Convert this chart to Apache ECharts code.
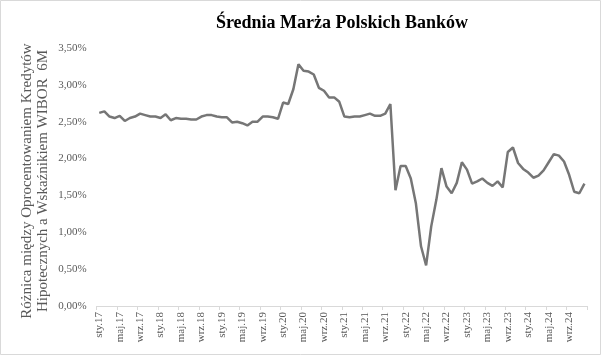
<!DOCTYPE html>
<html>
<head>
<meta charset="utf-8">
<script src="https://cdn.jsdelivr.net/npm/echarts@6/dist/echarts.min.js"></script>
<style>html,body{margin:0;padding:0;background:#fff}#c{width:602px;height:356px}</style>
</head>
<body>
<div id="c"></div>
<script>
const title = "Średnia Marża Polskich Banków";
const yAxisTitle = "Różnica między Oprocentowaniem Kredytów\nHipotecznych a Wskaźnikiem WIBOR  6M";
const monthNames = ["sty","lut","mar","kwi","maj","cze","lip","sie","wrz","paź","lis","gru"];
const years = ["17","18","19","20","21","22","23","24"];
const categories = [];
years.forEach(y => monthNames.forEach(m => categories.push(m + "." + y)));
// margin in %
const margin = [
  2.62, 2.64, 2.57, 2.55, 2.58, 2.51, 2.55, 2.57, 2.61, 2.59, 2.57, 2.57,
  2.55, 2.60, 2.52, 2.55, 2.54, 2.54, 2.53, 2.53, 2.57, 2.59, 2.59, 2.57,
  2.56, 2.56, 2.49, 2.50, 2.48, 2.45, 2.50, 2.50, 2.57, 2.57, 2.56, 2.54,
  2.76, 2.74, 2.94, 3.28, 3.19, 3.18, 3.14, 2.96, 2.92, 2.83, 2.83, 2.77,
  2.57, 2.56, 2.57, 2.57, 2.59, 2.61, 2.58, 2.58, 2.61, 2.74, 1.57, 1.90,
  1.90, 1.73, 1.39, 0.81, 0.55, 1.08, 1.44, 1.87, 1.62, 1.53, 1.67, 1.95,
  1.85, 1.66, 1.69, 1.73, 1.67, 1.63, 1.69, 1.61, 2.09, 2.15, 1.94, 1.86,
  1.81, 1.74, 1.77, 1.84, 1.95, 2.06, 2.04, 1.96, 1.78, 1.55, 1.53, 1.66
];
const yTicks = [0, 0.5, 1, 1.5, 2, 2.5, 3, 3.5];

const chart = echarts.init(document.getElementById('c'), null, {renderer: 'canvas'});
const serif = '"Liberation Serif","Times New Roman",serif';
chart.setOption({
  animation: false,
  backgroundColor: '#fff',
  title: {
    text: title, left: 337, top: 9, textAlign: 'center',
    textStyle: {fontFamily: serif, fontSize: 18, fontWeight: 'bold', color: '#000'}
  },
  graphic: [{
    type: 'rect', shape: {x: 0.5, y: 0.5, width: 600, height: 354},
    style: {fill: null, stroke: '#d9d9d9', lineWidth: 1}, silent: true
  }, {
    type: 'text', x: 35, y: 181, rotation: Math.PI / 2, silent: true,
    style: {
      text: yAxisTitle, fontFamily: serif, fontSize: 15, lineHeight: 16,
      fill: '#595959', align: 'center', verticalAlign: 'middle'
    }
  }],
  grid: {left: 96.7, right: 15, top: 48, bottom: 50},
  xAxis: {
    type: 'category', data: categories, boundaryGap: true,
    axisLine: {lineStyle: {color: '#d9d9d9', width: 1}},
    axisTick: {show: true, interval: 3, length: 4, lineStyle: {color: '#d9d9d9'}},
    axisLabel: {interval: 3, rotate: 90, margin: 6, padding: [6, 0, 0, 0],
      fontFamily: serif, fontSize: 11, color: '#595959'},
    splitLine: {show: false}
  },
  yAxis: {
    type: 'value', min: yTicks[0], max: yTicks[yTicks.length - 1], interval: 0.5,
    axisLine: {show: false}, axisTick: {show: false}, splitLine: {show: false},
    axisLabel: {
      margin: 10, fontFamily: serif, fontSize: 11, color: '#595959',
      formatter: v => v.toFixed(2).replace('.', ',') + '%'
    }
  },
  series: [{
    type: 'line', data: margin, symbol: 'none', smooth: false,
    lineStyle: {color: '#767676', width: 2.5}
  }]
});
</script>
</body>
</html>
